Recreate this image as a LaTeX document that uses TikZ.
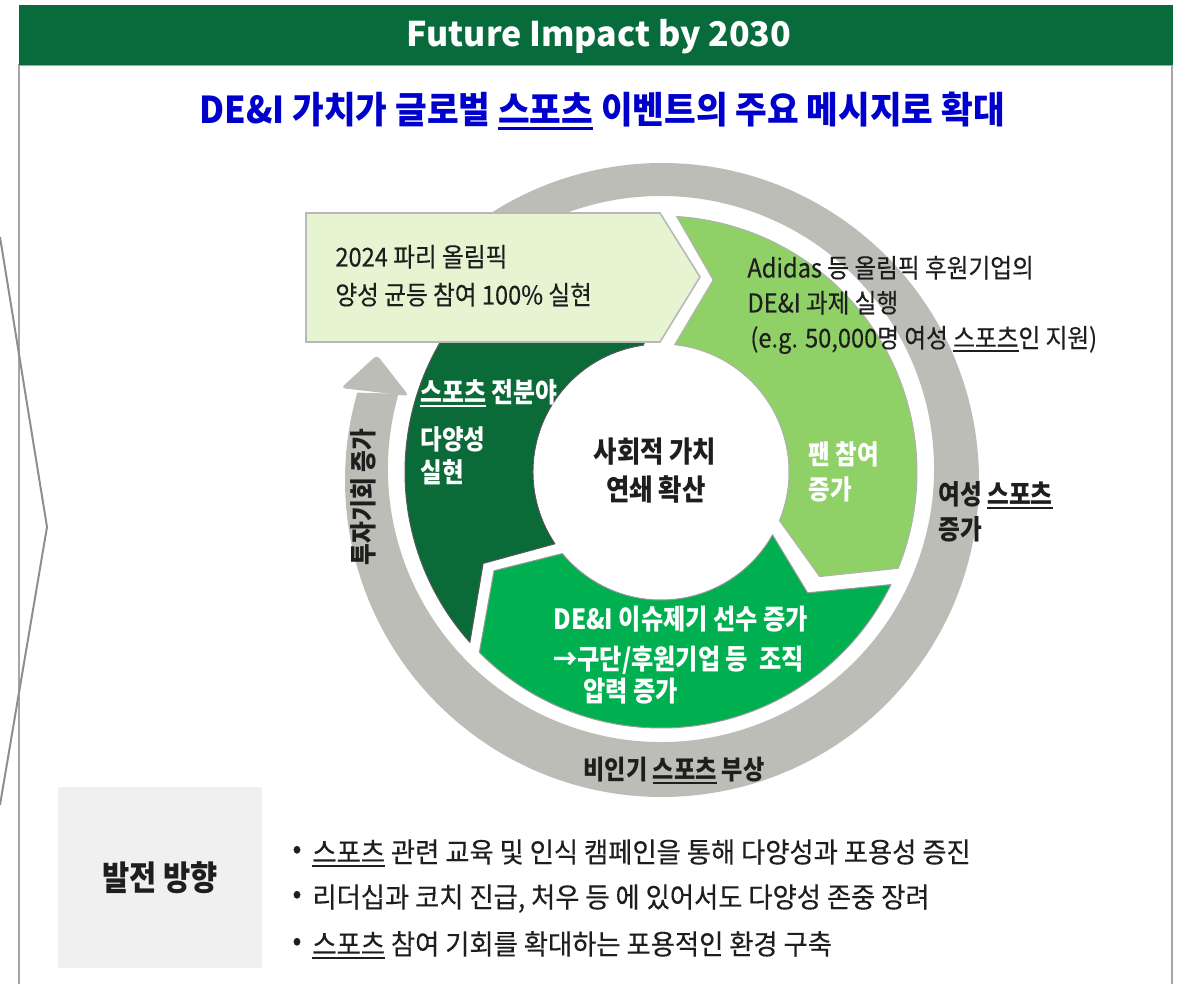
\documentclass[tikz,border=0pt]{standalone}
\usepackage{fontspec}
\setmainfont{Noto Sans CJK KR}[FakeStretch=0.87]
\newfontfamily\titlefont{Noto Sans CJK KR}
\newfontfamily\subfont{Noto Sans CJK KR}[FakeStretch=0.93]
\newfontfamily\boxfont{Noto Sans CJK KR}[FakeStretch=0.91, FakeBold=0.3]
\newfontfamily\bulfont{Noto Sans CJK KR}[FakeStretch=0.94, FakeBold=0.3]
\usetikzlibrary{calc}
\definecolor{hdrgreen}{HTML}{076B3B}
\definecolor{dkgreen}{HTML}{0A6A38}
\definecolor{ltgreen}{HTML}{8FD067}
\definecolor{mdgreen}{HTML}{00AF50}
\definecolor{boxfill}{HTML}{E6F4D2}
\definecolor{ringgray}{HTML}{BDBDB8}
\definecolor{subblue}{HTML}{0000CC}
\definecolor{panelgray}{HTML}{F0F0F0}
\definecolor{linegray}{HTML}{8E8E8E}
\definecolor{txt}{HTML}{1E1E1E}
\newsavebox{\spxbox}
\newcommand{\spx}{\sbox{\spxbox}{스포츠}\rlap{\rule[-0.17em]{\wd\spxbox}{0.065em}}\usebox{\spxbox}}
\tikzset{
  lbl/.style={inner sep=0pt, anchor=base west, text=txt},
  wlbl/.style={inner sep=0pt, anchor=base west, text=white},
  fbox/.style={font=\boxfont\fontsize{13}{15}\selectfont},
  fb/.style={font=\bfseries\fontsize{#1}{16}\selectfont},
  fbul/.style={font=\bulfont\fontsize{14}{16}\selectfont},
  seg/.style={line width=0.5pt, line join=round},
}
\begin{document}
\begin{tikzpicture}[x=0.5pt,y=-0.5pt]
\useasboundingbox (0,0) rectangle (1185,984);
% frame
\draw[black!35, line width=0.75pt] (19,1000) -- (19,65) -- (1172,65) -- (1172,1000);
\fill[hdrgreen] (19,5) rectangle (1173,65);
\node[anchor=base, text=white, inner sep=0pt, font=\titlefont\bfseries\fontsize{17}{20}\selectfont] (title) at (599,47) {Future Impact by 2030};
\node[anchor=base, text=subblue, inner sep=0pt, font=\subfont\bfseries\fontsize{18.5}{22}\selectfont] (subtitle) at (602,123.5) {DE\&I 가치가 글로벌 \spx{} 이벤트의 주요 메시지로 확대};
% left chevron line
\coordinate (lt) at (0,237);
\coordinate (ltip) at (47,527);
\coordinate (lb) at (0,805);
\draw[linegray, line width=1pt] (lt) -- (ltip) -- (lb);

% centers
\coordinate (C) at (661,472);
\coordinate (O1) at (662,480);
\coordinate (O2) at (661,469);

% gray ring arrow
\fill[ringgray] ($(O1)+(220:317)$) arc[start angle=220, end angle=556, radius=317]
  -- ($(O2)+(556:273)$) arc[start angle=556, end angle=220, radius=273] -- cycle;
\fill[ringgray, rounded corners=2pt] (341,388) -- (377,355) -- (409,396) -- cycle;

% segments
\filldraw[seg, fill=dkgreen, draw=black!65] ($(C)+(138.3:256)$) arc[start angle=138.3, end angle=262, radius=256]
  -- ($(C)+(274:192)$) -- ($(C)+(262:128)$) arc[start angle=262, end angle=145.9, radius=128]
  -- ($(C)+(152.8:200)$) -- cycle;
\filldraw[seg, fill=ltgreen, draw=black!30] ($(C)+(-86.5:256)$) arc[start angle=-86.5, end angle=22.1, radius=256]
  -- ($(C)+(33.4:190)$) -- ($(C)+(22.3:128)$) arc[start angle=22.3, end angle=-83.9, radius=128]
  -- ($(C)+(-74.8:199)$) -- cycle;
\filldraw[seg, fill=mdgreen, draw=black!40] ($(C)+(26.1:256)$) arc[start angle=26.1, end angle=135.2, radius=256]
  -- ($(C)+(149.4:194)$) -- ($(C)+(140.4:128)$) arc[start angle=140.4, end angle=29.4, radius=128]
  -- ($(C)+(39.5:190)$) -- cycle;

% light box
\filldraw[fill=boxfill, draw=black!28, line width=0.8pt, line join=miter] (306,213) -- (660,213) -- (700,277) -- (660,342) -- (306,342) -- cycle;
\node[lbl, fbox] (b1) at (335,266.5) {2024 파리 올림픽};
\node[lbl, fbox] (b2) at (335,304.5) {양성 균등 참여 100\% 실현};

% light green text
\node[lbl, fbox] (g1) at (747,277.5) {Adidas 등 올림픽 후원기업의};
\node[lbl, fbox] (g2) at (747,312.5) {DE\&I 과제 실행};
\node[lbl, fbox] (g3) at (750,347.5) {(e.g. 50,000명 여성 \spx{}인 지원)};

% dark green text
\node[wlbl, fb=13.7] (d1) at (420,402.5) {\spx{} 전분야};
\node[wlbl, fb=13.5] (d2) at (420,449.5) {다양성};
\node[wlbl, fb=13.5] (d3) at (420,482.5) {실현};

% fan text
\node[wlbl, fb=13.5] (f1) at (808,464.5) {팬 참여};
\node[wlbl, fb=13.5] (f2) at (808,499.5) {증가};

% medium green text
\node[wlbl, fb=13.9] (m1) at (553,629.5) {DE\&I 이슈제기 선수 증가};
\node[wlbl, fb=13.9] (m2) at (553,669.5) {→구단/후원기업 등 \ 조직};
\node[wlbl, fb=13.9] (m3) at (583,701.5) {압력 증가};

% inner white circle
\fill[white] (C) circle[radius=127];
\node[anchor=base, inner sep=0pt, text=txt, fb=14.6] (c1) at (655,462.5) {사회적 가치};
\node[anchor=base, inner sep=0pt, text=txt, fb=14.6] (c2) at (656,500.5) {연쇄 확산};

% ring labels
\node[inner sep=0pt, text=txt, fb=13.6, rotate=90] (r1) at (363,497) {투자기회 증가};
\node[lbl, fb=13.6] (r2) at (938,504.5) {여성 \spx};
\node[lbl, fb=13.6] (r3) at (938,539.5) {증가};
\node[anchor=base, inner sep=0pt, text=txt, fb=13.3] (r4) at (674,779) {비인기 \spx{} 부상};

% bottom panel
\fill[panelgray] (58,787) rectangle (262,968);
\node[anchor=base, inner sep=0pt, text=txt, fb=17] (panel) at (160,890) {발전 방향};
\node[inner sep=0pt, text=txt, fbul] (u1) at (297,852) {•};
\node[inner sep=0pt, text=txt, fbul] (u2) at (297,897) {•};
\node[inner sep=0pt, text=txt, fbul] (u3) at (297,944) {•};
\node[lbl, fbul] (l1) at (312,862.5) {\spx{} 관련 교육 및 인식 캠페인을 통해 다양성과 포용성 증진};
\node[lbl, fbul] (l2) at (312,907.5) {리더십과 코치 진급, 처우 등 에 있어서도 다양성 존중 장려};
\node[lbl, fbul] (l3) at (312,954.5) {\spx{} 참여 기회를 확대하는 포용적인 환경 구축};
\end{tikzpicture}
\end{document}
